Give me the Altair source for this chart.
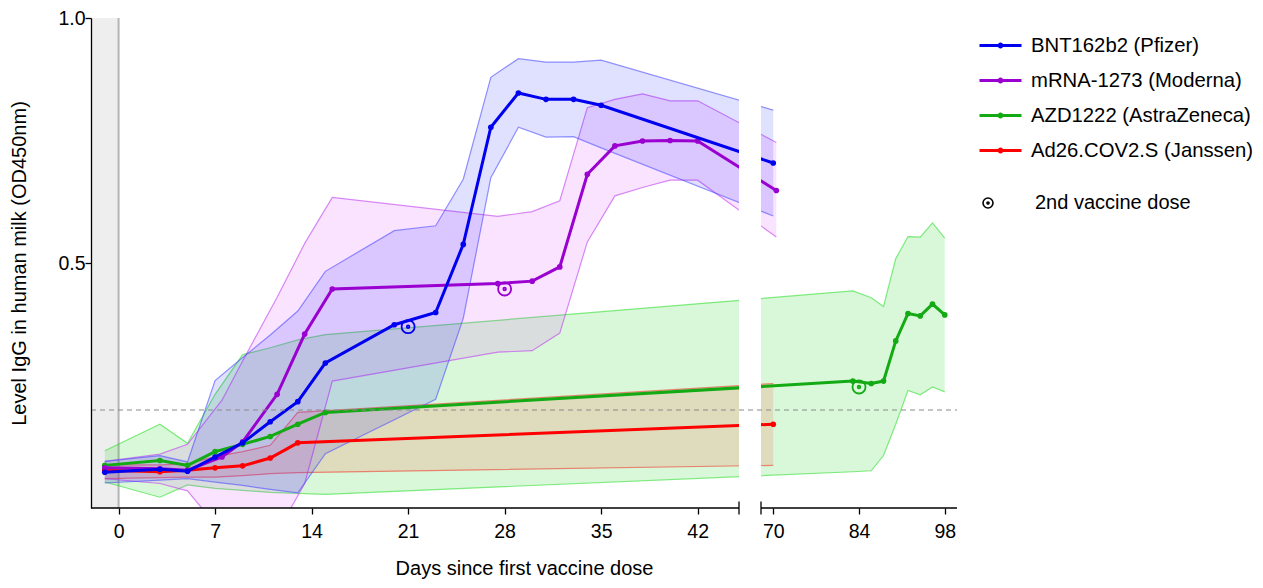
import altair as alt
import pandas as pd

# ---------------- data ----------------
VACCINES = ["BNT162b2 (Pfizer)", "mRNA-1273 (Moderna)", "AZD1222 (AstraZeneca)", "Ad26.COV2.S (Janssen)"]
LINE_COLORS = ["#0000f0", "#9a00d0", "#13aa13", "#ff0000"]
BAND_COLORS = ["#0000ff", "#e040ff", "#00d000", "#ff2000"]
BAND_OPACITY = [0.12, 0.15, 0.15, 0.13]
EDGE_COLORS = ["#4d4dff", "#c040f0", "#30e030", "#f04030"]

pfizer_day = [-1, 3, 5, 7, 9, 11, 13, 15, 20, 23, 25, 27, 29, 31, 33, 35, 70]
pfizer_mean = [0.073, 0.079, 0.075, 0.104, 0.133, 0.176, 0.217, 0.296, 0.374, 0.399, 0.538, 0.777, 0.847, 0.834, 0.834, 0.822, 0.704]
pfizer_upper = [0.095, 0.107, 0.094, 0.260, 0.307, 0.353, 0.402, 0.483, 0.566, 0.576, 0.671, 0.879, 0.917, 0.910, 0.910, 0.914, 0.812]
pfizer_lower = [0.051, 0.057, 0.060, 0.053, 0.046, 0.038, 0.031, 0.111, 0.180, 0.222, 0.387, 0.674, 0.777, 0.757, 0.758, 0.735, 0.596]

moderna_day = [-1, 3, 5, 7.5, 9, 11.5, 13.5, 15.5, 27.5, 30, 32, 34, 36, 38, 40, 42, 70.5]
moderna_mean = [0.082, 0.080, 0.077, 0.104, 0.135, 0.232, 0.355, 0.447, 0.458, 0.463, 0.492, 0.681, 0.739, 0.749, 0.750, 0.749, 0.648]
moderna_upper = [0.095, 0.110, 0.130, 0.220, 0.300, 0.430, 0.540, 0.634, 0.595, 0.605, 0.627, 0.817, 0.834, 0.845, 0.831, 0.831, 0.746]
moderna_lower = [0.060, 0.050, 0.035, -0.050, -0.080, -0.050, 0.050, 0.259, 0.318, 0.321, 0.357, 0.543, 0.637, 0.654, 0.669, 0.669, 0.553]

az_day = [-1, 3, 5, 7, 9, 11, 13, 15, 83, 86, 88, 90, 92, 94, 96, 98]
az_mean = [0.087, 0.097, 0.087, 0.115, 0.130, 0.146, 0.171, 0.195, 0.259, 0.254, 0.259, 0.341, 0.397, 0.392, 0.416, 0.394]
az_upper = [0.117, 0.171, 0.132, 0.232, 0.313, 0.327, 0.343, 0.354, 0.443, 0.429, 0.411, 0.509, 0.554, 0.553, 0.582, 0.551]
az_lower = [0.053, 0.022, 0.047, 0.040, 0.036, 0.032, 0.030, 0.028, 0.074, 0.076, 0.107, 0.171, 0.240, 0.231, 0.247, 0.237]

janssen_day = [-1, 3, 5, 7, 9, 11, 13, 70]
janssen_mean = [0.077, 0.074, 0.077, 0.082, 0.086, 0.102, 0.133, 0.171]
janssen_upper = [0.088, 0.088, 0.090, 0.105, 0.115, 0.128, 0.195, 0.254]
janssen_lower = [0.060, 0.062, 0.063, 0.063, 0.066, 0.070, 0.072, 0.087]

DOSE_LABEL = "2nd vaccine dose"
dose_vaccine = [VACCINES[0], VACCINES[1], VACCINES[2]]
dose_day = [21, 28, 84]
dose_value = [0.370, 0.447, 0.247]

X_DOMAIN = [-2, 45, 68, 100]          # broken axis: two segments
X_RANGE = [0, 648, 670, 866]
X_TICKS = [0, 7, 14, 21, 28, 35, 42, 70, 84, 98]
Y_TICKS = [0.5, 1.0]
BASELINE = [-2, 0]
THRESHOLD = 0.2

# ---------------- tables ----------------
series = [
    (VACCINES[0], pfizer_day, pfizer_mean, pfizer_upper, pfizer_lower),
    (VACCINES[1], moderna_day, moderna_mean, moderna_upper, moderna_lower),
    (VACCINES[2], az_day, az_mean, az_upper, az_lower),
    (VACCINES[3], janssen_day, janssen_mean, janssen_upper, janssen_lower),
]
rows = []
for name, d, m, u, l in series:
    for i in range(len(d)):
        rows.append({"vaccine": name, "day": d[i], "mean": m[i], "upper": u[i], "lower": l[i]})
df = pd.DataFrame(rows)

dose_df = pd.DataFrame({"vaccine": dose_vaccine, "day": dose_day, "value": dose_value,
                        "label": [DOSE_LABEL] * len(dose_day)})

FONT = "Liberation Sans"
xs = alt.Scale(domain=X_DOMAIN, range=X_RANGE)
ys = alt.Scale(domain=[0, 1], nice=False, zero=False)

X_AXIS = alt.Axis(values=X_TICKS, title="Days since first vaccine dose", domain=False, grid=False,
                  tickColor="black", tickSize=6, tickWidth=1.3, labelFontSize=19.5, labelPadding=8,
                  titleFontSize=20, titlePadding=18, titleFontWeight="normal", labelColor="black",
                  titleColor="black", zindex=1, labelFlush=False, labelOverlap=False)
Y_AXIS = alt.Axis(values=Y_TICKS, format=".1f", title="Level IgG in human milk (OD450nm)", grid=False,
                  domainColor="black", domainWidth=1.3, tickColor="black", tickSize=6, tickWidth=1.3,
                  labelFontSize=19.5, labelPadding=0, titleFontSize=20, titlePadding=28,
                  titleFontWeight="normal", labelColor="black", titleColor="black", zindex=1,
                  labelFlush=False)

LEGEND_PATH = "M-1,0L1,0M-0.07,0A0.07,0.07,0,1,0,0.07,0A0.07,0.07,0,1,0,-0.07,0Z"
DOSE_PATH = "M-1,0A1,1,0,1,0,1,0A1,1,0,1,0,-1,0ZM-0.2,0A0.2,0.2,0,1,0,0.2,0A0.2,0.2,0,1,0,-0.2,0Z"

COLOR_LEGEND = alt.Legend(title=None, orient="none", legendX=887, legendY=5, symbolType=LEGEND_PATH,
                          symbolSize=1764, symbolStrokeWidth=3, labelFontSize=20.3, labelOffset=8,
                          rowPadding=2, labelLimit=400, labelColor="black", padding=0)
DOSE_LEGEND = alt.Legend(title=None, orient="none", legendX=887, legendY=175, symbolSize=100,
                         symbolStrokeColor="black", symbolStrokeWidth=1.6, labelFontSize=20,
                         labelOffset=37, labelLimit=400, labelColor="black", padding=0)

color_enc = alt.Color("vaccine:N", scale=alt.Scale(domain=VACCINES, range=LINE_COLORS), legend=COLOR_LEGEND)


def X(field):
    return alt.X(f"{field}:Q", scale=xs, axis=X_AXIS)


def Y(field):
    return alt.Y(f"{field}:Q", scale=ys, axis=Y_AXIS)


layers = []

# baseline shaded zone
base_df = pd.DataFrame({"x": [BASELINE[0]], "x2": [BASELINE[1]], "y": [0.0], "y2": [1.0]})
layers.append(alt.Chart(base_df).mark_rect(fill="#eeeeee").encode(x=X("x"), x2="x2", y=Y("y"), y2="y2"))
layers.append(alt.Chart(base_df).mark_rule(color="#b5b5b5", strokeWidth=2).encode(x=X("x2"), y=Y("y"), y2="y2"))

# bands (SD)
for idx in [2, 3, 1, 0]:
    v = VACCINES[idx]
    sub = alt.Chart(df).transform_filter(alt.datum.vaccine == v)
    layers.append(sub.mark_area(color=BAND_COLORS[idx], opacity=BAND_OPACITY[idx], clip=True).encode(
        x=X("day"), y=Y("lower"), y2="upper"))
    for edge in ["upper", "lower"]:
        layers.append(sub.mark_line(color=EDGE_COLORS[idx], strokeWidth=1.2, opacity=0.6, clip=True).encode(
            x=X("day"), y=Y(edge)))

# mean lines
for idx in [3, 2, 1, 0]:
    v = VACCINES[idx]
    layers.append(alt.Chart(df).transform_filter(alt.datum.vaccine == v).mark_line(
        strokeWidth=3, point=alt.OverlayMarkDef(filled=True, size=32)).encode(
        x=X("day"), y=Y("mean"), color=color_enc))

# 2nd dose markers
layers.append(alt.Chart(dose_df).mark_point(filled=False, strokeWidth=1.8, size=170, opacity=1).encode(
    x=X("day"), y=Y("value"), color=color_enc,
    shape=alt.Shape("label:N", scale=alt.Scale(domain=[DOSE_LABEL], range=[DOSE_PATH]), legend=DOSE_LEGEND)))

# axis-break mask
gap_df = pd.DataFrame({"x": [X_DOMAIN[1]], "x2": [X_DOMAIN[2]], "y": [0.0], "y2": [1.0]})
layers.append(alt.Chart(gap_df).mark_rect(fill="white").encode(x=X("x"), x2="x2", y=Y("y"), y2="y2"))

# threshold
thr_df = pd.DataFrame({"x": [X_DOMAIN[0]], "x2": [X_DOMAIN[-1]], "y": [THRESHOLD]})
layers.append(alt.Chart(thr_df).mark_rule(color="#8a8a8a", strokeDash=[5, 4], strokeWidth=1.2).encode(
    x=X("x"), x2="x2", y=Y("y")))

# broken x axis line
axis_df = pd.DataFrame({"x": [X_DOMAIN[0], X_DOMAIN[2]], "x2": [X_DOMAIN[1], X_DOMAIN[3]], "y": [0.0, 0.0]})
layers.append(alt.Chart(axis_df).mark_rule(color="black", strokeWidth=1.3).encode(x=X("x"), x2="x2", y=Y("y")))
cap_df = pd.DataFrame({"x": [X_DOMAIN[1], X_DOMAIN[2]], "y": [-0.0135, -0.0135], "y2": [0.0135, 0.0135]})
layers.append(alt.Chart(cap_df).mark_rule(color="black", strokeWidth=1.3).encode(x=X("x"), y=Y("y"), y2="y2"))

chart = alt.layer(*layers).properties(
    width=866, height=490,
    autosize=alt.AutoSizeParams(type="none"),
    padding={"left": 83, "top": 10, "right": 298, "bottom": 72},
).configure(font=FONT).configure_view(stroke=None)

chart.save("out.html", embed_options={"renderer": "svg", "actions": False})
